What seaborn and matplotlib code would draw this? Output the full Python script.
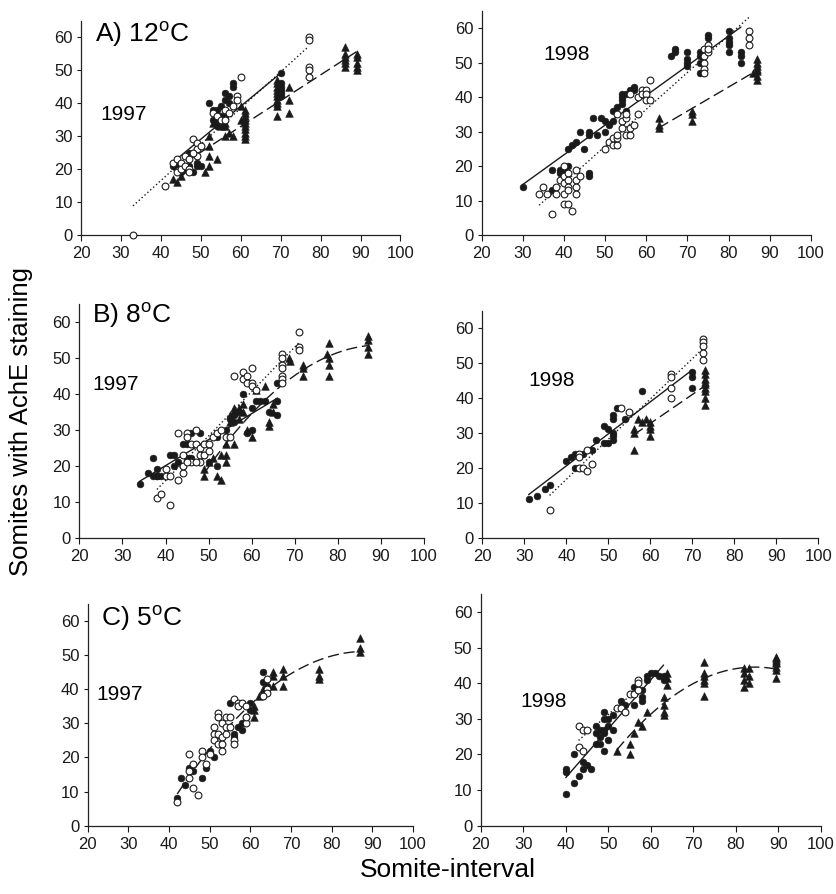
import matplotlib
matplotlib.use('Agg')
import numpy as np
import pandas as pd
import seaborn as sns
import matplotlib.pyplot as plt

sns.set_theme(style='ticks')
plt.rcParams['font.family'] = ['Liberation Sans', 'DejaVu Sans']
plt.rcParams['mathtext.fontset'] = 'custom'
plt.rcParams['mathtext.rm'] = 'Liberation Sans'
for k in ['text.color', 'axes.labelcolor', 'xtick.color', 'ytick.color']:
    plt.rcParams[k] = 'black'

# ---- A) 12 C, 1997 ----
a97_filled_x = [43, 44, 45, 46, 47, 48, 49, 50, 49, 47, 52, 53, 53, 54, 55, 56, 56, 57, 57, 58, 58, 55, 54, 54, 56, 70, 70, 70, 70, 70, 70]
a97_filled_y = [21, 22, 19, 20, 21, 19, 22, 21, 21, 25, 40, 38, 35, 38, 39, 43, 41, 42, 40, 46, 45, 36, 35, 33, 36, 49, 46, 45, 44, 43, 42]
a97_open_x = [33, 41, 43, 44, 45, 46, 44, 45, 46, 47, 47, 48, 49, 49, 50, 49, 47, 48, 53, 54, 55, 56, 58, 59, 59, 60, 57, 56, 77, 77, 77, 77, 77]
a97_open_y = [0, 15, 22, 23, 22, 24, 19, 20, 21, 20, 23, 29, 28, 26, 27, 24, 19, 25, 37, 36, 35, 38, 39, 42, 41, 48, 37, 35, 60, 59, 51, 50, 48]
a97_tri_x = [43, 44, 45, 46, 52, 52, 52, 52, 51, 54, 53, 55, 56, 56, 57, 58, 56, 60, 60,
             61, 61, 61, 61, 61, 61, 61, 61, 61, 61, 69, 69, 69, 69, 69, 69, 69, 69, 69, 69,
             72, 72, 72, 86, 86, 86, 86, 86, 86, 89, 89, 89, 89, 89]
a97_tri_y = [17, 16, 18, 20, 30, 27, 24, 21, 19, 23, 34, 33, 33, 30, 31, 30, 34, 39, 35,
             38, 37, 36, 35, 34, 33, 32, 31, 30, 29, 47, 46, 45, 44, 43, 42, 41, 40, 39, 36,
             45, 41, 37, 57, 55, 54, 53, 52, 51, 55, 54, 52, 51, 50]

# ---- A) 12 C, 1998 ----
a98_filled_x = [30, 37, 37, 39, 39, 40, 41, 41, 42, 43, 44, 45, 46, 46, 46, 46, 47, 48, 49, 50, 50, 51, 52, 52, 53, 54, 54, 54, 54, 55, 55, 56, 57, 57,
                66, 67, 67, 70, 70, 70, 70, 73, 73, 73, 73, 75, 75, 80, 80, 80, 80, 80, 83, 83, 83]
a98_filled_y = [14, 19, 13, 19, 18, 19, 20, 25, 26, 27, 30, 25, 30, 29, 18, 17, 34, 29, 34, 30, 33, 32, 33, 36, 37, 39, 41, 40, 38, 41, 36, 42, 43, 42,
                52, 54, 53, 53, 51, 50, 49, 53, 52, 50, 47, 58, 57, 59, 57, 56, 55, 53, 53, 52, 50]
a98_open_x = [34, 35, 36, 37, 38, 38, 39, 40, 40, 40, 40, 40, 41, 41, 41, 41, 41, 42, 43, 43, 43, 43, 44,
              50, 51, 52, 52, 53, 53, 53, 53, 54, 54, 55, 55, 55, 56, 56, 56, 57, 58, 58, 59, 59, 60, 60, 60, 61, 61,
              74, 74, 74, 74, 74, 75, 75, 75, 85, 85, 85]
a98_open_y = [12, 14, 12, 6, 14, 12, 16, 20, 17, 15, 12, 9, 9, 18, 16, 14, 13, 7, 19, 16, 14, 12, 17,
              25, 27, 26, 28, 26, 28, 29, 35, 31, 33, 29, 34, 35, 29, 31, 41, 32, 35, 40, 42, 41, 42, 41, 39, 45, 39,
              54, 52, 50, 48, 47, 53, 55, 54, 59, 57, 55]
a98_tri_x = [63, 63, 63, 71, 71, 71, 87, 87, 87, 87, 87, 87, 87, 86]
a98_tri_y = [34, 32, 31, 36, 35, 33, 45, 46, 47.5, 51, 50, 49, 48, 47]

# ---- B) 8 C, 1997 ----
b97_filled_x = [34, 36, 37, 37, 38, 38, 39, 41, 42, 42, 43, 44, 45, 45, 46, 46, 48, 49, 50, 52,
                52, 56, 56, 57, 58, 59, 60, 60, 61, 62, 63, 64, 66, 66, 66, 55, 54, 38]
b97_filled_y = [15, 18, 22, 17, 19, 17, 17, 23, 23, 20, 21, 26, 26, 22, 29, 22, 29, 23, 21, 28,
                20, 34, 32, 35, 40, 29, 30, 36, 38, 38, 38, 35, 43, 38, 34, 33, 30, 17]
b97_open_x = [38, 39, 41, 40, 40, 41, 43, 43, 44, 44, 44, 45, 45, 46, 47, 47, 48, 48, 48, 49,
              49, 50, 50, 51, 52, 53, 54, 55, 56, 58, 58, 59, 59, 60, 60, 60, 61, 67, 67, 67,
              67, 67, 67, 67, 71, 71, 71, 46, 45, 47]
b97_open_y = [11, 12, 9, 19, 17, 17, 29, 16, 18, 20, 23, 29, 28, 26, 30, 26, 25, 23, 21, 26,
              23, 26, 24, 28, 29, 30, 28, 28, 45, 46, 44, 45, 43, 47, 43, 42, 41, 51, 50, 48,
              47, 45, 44, 43, 57, 53, 52, 21, 21, 21]
b97_tri_x = [49, 49, 50, 51, 52, 53, 53, 54, 54, 54, 55, 55, 56, 56, 57, 58, 59, 60, 61,
             63, 65, 65, 64, 64, 68.6, 69, 72, 72, 72, 77.6, 78, 78, 78, 78, 87, 87, 87, 87, 58, 57, 56]
b97_tri_y = [19, 17, 21, 22, 17, 16, 23, 23, 21, 26, 32, 34, 26, 35, 36, 35, 30, 28, 41,
             42, 37, 35, 32, 31, 50, 49, 48, 47, 45, 51, 54, 50, 48, 45, 56, 55, 53, 51, 37, 33, 36]

# ---- B) 8 C, 1998 ----
b98_filled_x = [31, 33, 35, 36, 40, 41, 42, 42, 44, 46, 47, 49, 49, 50, 50, 51, 51, 51, 51, 51, 52, 54, 58, 70, 70, 70]
b98_filled_y = [11, 12, 14, 15, 22, 23, 24, 20, 24, 25, 28, 32, 27, 31, 27, 35, 34, 30, 29, 28, 37, 34, 42, 47.5, 46, 43]
b98_open_x = [36, 43, 43, 43, 44, 45, 45, 46, 53, 55, 65, 65, 65, 65, 72.5, 72.5, 72.5, 72.5, 72.5]
b98_open_y = [8, 24, 23, 20, 20, 19, 25, 21, 37, 36, 47, 46, 43, 40, 57, 56, 55, 53, 51]
b98_tri_x = [56, 56, 56, 57, 58, 59, 60, 60, 60, 60, 73, 73, 73, 73, 73, 73, 73, 73, 73]
b98_tri_y = [31, 30, 25, 34, 33, 34, 33, 32, 31, 29, 48, 47, 45.5, 44.6, 44, 43, 40, 38, 42]

# ---- C) 5 C, 1997 ----
c97_filled_x = [42, 43, 44, 45, 46, 48, 49, 50, 51, 55, 56, 56, 57, 58, 58, 59, 60, 60, 63, 63, 64, 52]
c97_filled_y = [8, 14, 12, 17, 16, 14, 17, 22, 20, 36, 26, 27, 29, 28, 30, 32, 36, 34, 45, 42, 41, 32]
c97_open_x = [42, 45, 45, 45, 46, 47, 46, 48, 48, 49, 50, 51, 51, 51, 52, 52, 52, 52, 53, 53,
              53, 53, 54, 54, 54, 55, 55, 56, 56, 56, 57, 57, 58, 59, 59, 59, 64, 64, 63, 64]
c97_open_y = [7, 21, 16, 14, 11, 9, 18, 22, 20, 18, 21, 29, 27, 25, 33, 32, 27, 24, 30, 26,
              24, 22, 32, 29, 27, 32, 29, 37, 25, 24, 36, 35, 36, 35, 30, 32, 40, 39, 38, 43]
c97_tri_x = [61, 61, 61, 65.5, 65.5, 65.5, 68, 68, 68, 77, 77, 77, 87, 87, 87, 63, 62]
c97_tri_y = [34, 32, 35, 45, 44, 41, 46, 44, 41, 46, 44, 43, 55, 52, 51, 40, 38]

# ---- C) 5 C, 1998 ----
c98_filled_x = [40, 40, 40, 42, 42, 43, 44, 44, 45, 46, 47, 47, 47, 48, 48, 48, 49, 49, 49, 49,
                49, 50, 50, 50, 51, 51, 53, 53, 54, 56, 56, 58, 58, 59, 59, 60, 61, 62, 63, 63, 58]
c98_filled_y = [9, 16, 15, 20, 12, 14, 18, 16, 17, 16, 28, 26, 23, 27, 25, 23, 32, 30, 27, 26,
                21, 30, 28, 24, 31, 27, 33, 35, 34, 39, 34, 36, 35, 42, 41, 43, 43, 42, 41, 42, 38]
c98_open_x = [43, 44, 45, 43, 44, 52, 53, 54, 55, 56, 57, 57, 57]
c98_open_y = [28, 27, 27, 22, 21, 33, 33, 32, 37, 37, 38, 41, 40]
c98_tri_x = [52, 55, 55, 56, 57, 58, 59, 63, 63, 63, 63, 63.7, 63.7, 63.7,
             72.5, 72.5, 72.5, 72.5, 72.5, 72.5, 82, 82, 82, 82, 83, 83, 83,
             89.4, 89.4, 89.4, 89.4, 89.4, 89.4, 89.4, 89.4]
c98_tri_y = [21, 23, 20, 26, 29, 28, 32, 36, 34, 32, 31, 43, 41.5, 39.5,
             46, 42.8, 41.9, 40.9, 40, 36.3, 44.2, 42.8, 41, 39, 44.2, 42, 40,
             47.4, 47, 46.5, 46, 45.6, 44.6, 43.7, 41.4]

panel_titles = ['A) 12$^{\\mathrm{o}}$C', 'B) 8$^{\\mathrm{o}}$C', 'C) 5$^{\\mathrm{o}}$C']
years = ['1997', '1998']

SOLID = '-'
DOT = (0, (1, 1.8))
DASH = (0, (8, 3.5))

# position of each panel in figure fraction: left, bottom, width, height
panels = [
    dict(pos=[0.097, 0.737, 0.382, 0.240], f=(a97_filled_x, a97_filled_y), o=(a97_open_x, a97_open_y),
         t=(a97_tri_x, a97_tri_y), fits=[('f', 1, SOLID), ('o', 1, DOT), ('t', 1, DASH)],
         title=panel_titles[0], title_xy=(23.5, 61), year=years[0], year_xy=(24.8, 36.4)),
    dict(pos=[0.576, 0.737, 0.394, 0.251], f=(a98_filled_x, a98_filled_y), o=(a98_open_x, a98_open_y),
         t=(a98_tri_x, a98_tri_y), fits=[('f', 1, SOLID), ('o', 1, DOT), ('t', 1, DASH)],
         title=None, year=years[1], year_xy=(35.1, 52.2)),
    dict(pos=[0.095, 0.3985, 0.412, 0.262], f=(b97_filled_x, b97_filled_y), o=(b97_open_x, b97_open_y),
         t=(b97_tri_x, b97_tri_y), fits=[('f', 1, SOLID), ('o', 1, DOT), ('t', 2, DASH)],
         title=panel_titles[1], title_xy=(22.9, 61.9), year=years[0], year_xy=(22.9, 42.4)),
    dict(pos=[0.577, 0.3985, 0.402, 0.254], f=(b98_filled_x, b98_filled_y), o=(b98_open_x, b98_open_y),
         t=(b98_tri_x, b98_tri_y), fits=[('f', 1, SOLID), ('o', 1, DOT), ('t', 1, DASH)],
         title=None, year=years[1], year_xy=(31, 45.1)),
    dict(pos=[0.105, 0.0764, 0.389, 0.248], f=(c97_filled_x, c97_filled_y), o=(c97_open_x, c97_open_y),
         t=(c97_tri_x, c97_tri_y), fits=[('all', 2, DASH)],
         title=panel_titles[2], title_xy=(23.3, 60.9), year=years[0], year_xy=(22.2, 38.4)),
    dict(pos=[0.575, 0.0764, 0.407, 0.259], f=(c98_filled_x, c98_filled_y), o=(c98_open_x, c98_open_y),
         t=(c98_tri_x, c98_tri_y), fits=[('f', 1, SOLID), ('o', 1, DOT), ('t', 2, DASH)],
         title=None, year=years[1], year_xy=(29.4, 34.8)),
]

fig = plt.figure(figsize=(8.36, 8.94), dpi=100)

for p in panels:
    ax = fig.add_axes(p['pos'])
    # fitted lines
    for key, order, ls in p['fits']:
        if key == 'all':
            xs = p['f'][0] + p['o'][0] + p['t'][0]
            ys = p['f'][1] + p['o'][1] + p['t'][1]
        else:
            xs, ys = p[key]
        sns.regplot(x=np.array(xs, float), y=np.array(ys, float), order=order, scatter=False,
                    ci=None, ax=ax, line_kws=dict(color='k', lw=1.0, ls=ls))
    # points
    sns.scatterplot(x=p['t'][0], y=p['t'][1], marker='^', color='k', edgecolor='k',
                    linewidth=0.4, s=30, ax=ax, clip_on=False, zorder=3)
    sns.scatterplot(x=p['f'][0], y=p['f'][1], marker='o', color='k', edgecolor='k',
                    linewidth=0.4, s=24, ax=ax, clip_on=False, zorder=3)
    sns.scatterplot(x=p['o'][0], y=p['o'][1], marker='o', color='white', edgecolor='k',
                    linewidth=0.8, s=24, ax=ax, clip_on=False, zorder=4)

    ax.set_xlim(20, 100)
    ax.set_ylim(0, 65)
    ax.set_xticks(range(20, 101, 10))
    ax.set_yticks(range(0, 61, 10))
    ax.set_xlabel('')
    ax.set_ylabel('')
    ax.tick_params(axis='x', labelsize=12, length=4, width=0.8, pad=4, colors='k')
    ax.tick_params(axis='y', labelsize=12, length=3, width=0.8, pad=3, colors='k')
    sns.despine(ax=ax)
    for s in ['left', 'bottom']:
        ax.spines[s].set_linewidth(0.9)
        ax.spines[s].set_color('#222222')

    if p['title']:
        ax.text(p['title_xy'][0], p['title_xy'][1], p['title'], fontsize=19,
                ha='left', va='center')
    ax.text(p['year_xy'][0], p['year_xy'][1], p['year'], fontsize=15, ha='left', va='center')

fig.text(0.025, 0.5285, 'Somites with AchE staining', rotation=90, fontsize=18.5,
         ha='center', va='center')
fig.text(0.536, 0.027, 'Somite-interval', fontsize=19, ha='center', va='center')

fig.savefig('out.png', dpi=100, facecolor='white')
